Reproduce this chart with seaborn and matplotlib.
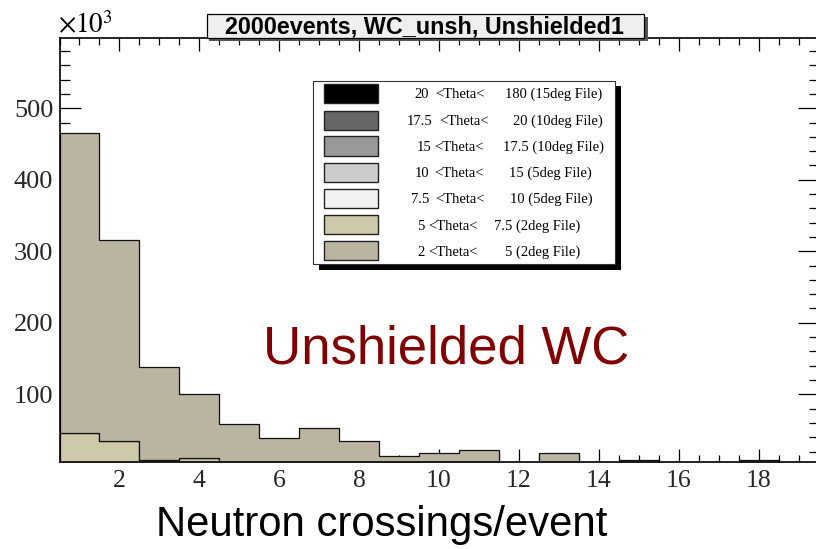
import numpy as np
import pandas as pd
import matplotlib
matplotlib.use("Agg")
import matplotlib.pyplot as plt
from matplotlib.patches import Rectangle
from matplotlib.ticker import MultipleLocator
import seaborn as sns

# ---- data (counts in units of 10^3 per bin of neutron crossings) ----
crossings = [1, 2, 3, 4, 5, 6, 7, 8, 9, 10, 11, 12, 13, 14, 15, 16, 17, 18, 19]
bin_edges = [0.5, 1.5, 2.5, 3.5, 4.5, 5.5, 6.5, 7.5, 8.5, 9.5, 10.5,
             11.5, 12.5, 13.5, 14.5, 15.5, 16.5, 17.5, 18.5, 19.5]

theta_20_180 = [0, 0, 0, 0, 0, 0, 0, 0, 0, 0, 0, 0, 0, 0, 0, 0, 0, 0, 0]
theta_17p5_20 = [0, 0, 0, 0, 0, 0, 0, 0, 0, 0, 0, 0, 0, 0, 0, 0, 0, 0, 0]
theta_15_17p5 = [0, 0, 0, 0, 0, 0, 0, 0, 0, 0, 0, 0, 0, 0, 0, 0, 0, 0, 0]
theta_10_15 = [0, 0, 0, 0, 0, 0, 0, 0, 0, 0, 0, 0, 0, 0, 0, 0, 0, 0, 0]
theta_7p5_10 = [0, 0, 0, 0, 0, 0, 0, 0, 0, 0, 0, 0, 0, 0, 0, 0, 0, 0, 0]
theta_5_7p5 = [46, 35, 8, 10.5, 0, 0, 0, 0, 0, 0, 0, 0, 0, 0, 0, 0, 0, 0, 0]
theta_2_5 = [419.5, 281, 130, 89.5, 58, 39.3, 52.4, 35.1, 13.7, 17.5, 21.7,
             0, 17.5, 0, 7.5, 0, 0, 7.5, 0]

# legend rows, top to bottom
theta_lo = ["20", "17.5", "15", "10", "7.5", "5", "2"]
theta_hi = ["180", "20", "17.5", "15", "10", "7.5", "5"]
source_file = ["15deg", "10deg", "10deg", "5deg", "5deg", "2deg", "2deg"]
band_colors = ["#000000", "#666666", "#999999", "#cccccc", "#f2f2f2",
               "#cdc9aa", "#bab5a3"]
band_series = [theta_20_180, theta_17p5_20, theta_15_17p5, theta_10_15,
               theta_7p5_10, theta_5_7p5, theta_2_5]

x_ticks = [2, 4, 6, 8, 10, 12, 14, 16, 18]
y_ticks = [100, 200, 300, 400, 500]

title = "2000events, WC_unsh, Unshielded1"
x_label = "Neutron crossings/event"
annotation = "Unshielded WC"

# ---- long-form table for seaborn ----
band_names = [f"{lo} <Theta< {hi} ({f} File)"
              for lo, hi, f in zip(theta_lo, theta_hi, source_file)]
rows = []
for name, series in zip(band_names, band_series):
    for c, v in zip(crossings, series):
        rows.append({"crossings": c, "counts": v, "band": name})
df = pd.DataFrame(rows)

sns.set_theme(style="ticks")
plt.rcParams["font.family"] = ["Liberation Serif", "DejaVu Serif"]
plt.rcParams["mathtext.fontset"] = "stix"

W, H = 816, 549
fig = plt.figure(figsize=(W / 100, H / 100), dpi=100)
ax = fig.add_axes([59.5 / W, 86.7 / H, 759.0 / W, 424.6 / H])

# first hue level ends up on top of the stack
sns.histplot(data=df, x="crossings", weights="counts", hue="band",
             hue_order=band_names[::-1], palette=band_colors[::-1],
             multiple="stack", bins=bin_edges, element="step", fill=True,
             alpha=1, edgecolor="#111111", linewidth=0.9, legend=False, ax=ax)

ax.set_xlim(0.5, 19.5)
ax.set_ylim(4.9, 598.7)
ax.set_xticks(x_ticks)
ax.set_yticks(y_ticks)
ax.xaxis.set_minor_locator(MultipleLocator(0.5))
ax.yaxis.set_minor_locator(MultipleLocator(20))
ax.set_ylabel("")
ax.set_facecolor("white")
for side in ["left", "right", "top", "bottom"]:
    ax.spines[side].set_visible(True)
    ax.spines[side].set_linewidth(1.2)
    ax.spines[side].set_color("black")

ax.tick_params(axis="x", which="major", direction="in", length=9.4, width=0.9,
               top=True, bottom=True, labelsize=18.5, pad=5.5, color="black")
ax.tick_params(axis="x", which="minor", direction="in", length=4.7, width=0.9,
               top=True, bottom=True, color="black")
ax.tick_params(axis="y", which="major", direction="in", length=15, width=0.9,
               left=True, right=True, labelsize=19, pad=4.5, color="black")
ax.tick_params(axis="y", which="minor", direction="in", length=7.2, width=0.9,
               left=True, right=True, color="black")

# x-axis label
ax.set_xlabel(x_label, family=["Liberation Sans", "DejaVu Sans"], fontsize=30.2,
              color="black")
ax.xaxis.label.set_va("baseline")
ax.xaxis.set_label_coords((381.7 - 59.5) / 759.0, (462.3 - 535.7) / 424.6)


def fx(px):
    return px / W


def fy(py):
    return 1 - py / H


def box(x0, y0, x1, y1, **kw):
    """Rectangle in pixel coordinates measured from the top-left corner."""
    r = Rectangle((fx(x0), fy(y1)), fx(x1) - fx(x0), fy(y0) - fy(y1),
                  transform=fig.transFigure, **kw)
    fig.add_artist(r)
    return r


# axis multiplier
fig.text(fx(58), fy(33), r"$\times10^{3}$", fontsize=19.5, ha="left",
         va="baseline", color="black")

# title box with shadow
box(209.5, 16.5, 647.5, 40.5, facecolor="#555555", edgecolor="none", zorder=4)
box(207.3, 14.3, 644.3, 38.3, facecolor="#efefef", edgecolor="black",
    linewidth=0.9, zorder=5)
fig.text(fx(424.5), fy(26.6), title, family=["Liberation Sans", "DejaVu Sans"],
         fontweight="bold", fontsize=16.8, ha="center", va="center",
         color="black", zorder=6)

# legend box with shadow
box(318.7, 86.4, 620.7, 269.7, facecolor="black", edgecolor="none", zorder=4)
box(313, 80.7, 615, 264, facecolor="white", edgecolor="#333333",
    linewidth=0.8, zorder=5)

row_y = [93.3, 120, 146, 172.3, 198.3, 224.7, 250.7]
lo_x = [414, 407, 417, 415, 411, 417.5, 417]
th_x = [435, 439, 434, 434, 435, 428, 428]
hi_x = [505, 513, 503, 509, 510, 494, 505]
for i in range(len(theta_lo)):
    yc = row_y[i]
    box(324, yc - 9.5, 378, yc + 9.5, facecolor=band_colors[i],
        edgecolor="#222222", linewidth=1.0, zorder=6)
    yb = fy(yc + 5)
    kw = dict(fontsize=10.5, ha="left", va="baseline", color="black", zorder=7)
    fig.text(fx(lo_x[i]), yb, theta_lo[i], **kw)
    fig.text(fx(th_x[i]), yb, "<Theta<", **kw)
    fig.text(fx(hi_x[i]), yb, f"{theta_hi[i]} ({source_file[i]} File)", **kw)

# annotation inside the plot
fig.text(fx(446.2), fy(363.3), annotation, family=["Liberation Sans", "DejaVu Sans"],
         fontsize=38, color="#800000", ha="center", va="baseline", zorder=7)

fig.savefig("out.png", dpi=100)
